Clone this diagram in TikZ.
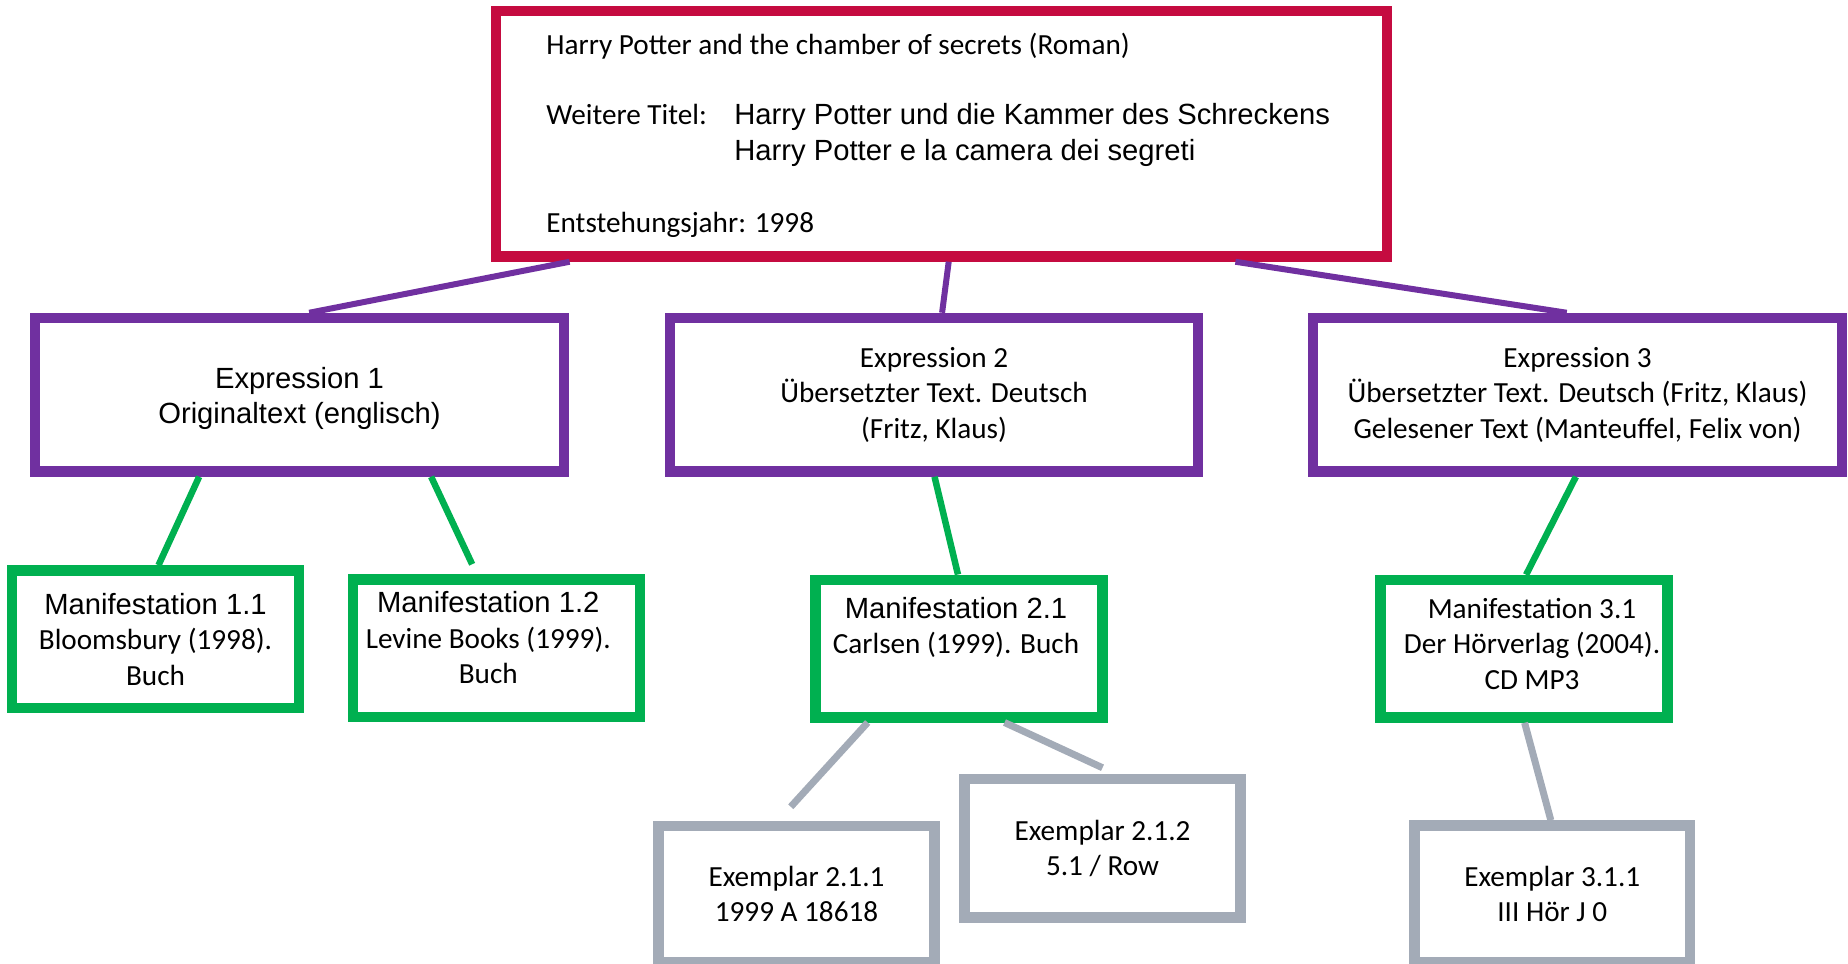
\documentclass[tikz,border=0pt]{standalone}
\usepackage{fontspec}
\setmainfont{Carlito}
\newfontfamily\arialfont{Liberation Sans}
\usetikzlibrary{calc}

\begin{document}
\begin{tikzpicture}[x=0.5pt,y=-0.5pt,
  txt/.style={inner sep=0pt,align=center,font=\fontsize{14.6pt}{17.7pt}\selectfont},
  box/.style={txt,rectangle,draw,line width=5.25pt},
  workbox/.style={box,draw=workred},
  exprbox/.style={box,draw=exprpurple,minimum width=264.5pt,minimum height=76.75pt},
  manibox/.style={box,draw=manigreen,minimum width=143.5pt,minimum height=68.75pt},
  itembox/.style={box,draw=itemgray,minimum width=138pt,minimum height=68.5pt},
  exprline/.style={draw=exprpurple,line width=3pt},
  maniline/.style={draw=manigreen,line width=3.25pt},
  itemline/.style={draw=itemgray,line width=3.5pt}]
\definecolor{workred}{HTML}{C50B40}
\definecolor{exprpurple}{HTML}{7030A0}
\definecolor{manigreen}{HTML}{00B050}
\definecolor{itemgray}{HTML}{A3ABB7}
\useasboundingbox (0,0) rectangle (1848,964);
\clip (0,0) rectangle (1848,964);

% Werk
\node[workbox,minimum width=445.5pt,minimum height=122.75pt] (work) at (941.5,133.75) {};
\node[txt,anchor=base west] (titel) at (546,54) {Harry Potter and the chamber of secrets (Roman)};
\node[txt,anchor=base west] (weitere) at (546,124) {Weitere Titel:};
\node[txt,anchor=base west] (titelde) at (734,124) {\arialfont Harry Potter und die Kammer des Schreckens};
\node[txt,anchor=base west] (titelit) at (734,160) {\arialfont Harry Potter e la camera dei segreti};
\node[txt,anchor=base west] (jahr) at (546,232) {Entstehungsjahr: 1998};

% Expressionen
\node[exprbox,font=\fontsize{14.6pt}{17.7pt}\selectfont\arialfont,text height=31.8pt] (expr1) at (299.5,394.75)
  {Expression 1\\Originaltext (englisch)};
\node[exprbox,minimum width=264pt] (expr2) at (934,394.75)
  {Expression 2\\\"Ubersetzter Text. Deutsch\\(Fritz, Klaus)};
\node[exprbox] (expr3) at (1577.5,394.75)
  {Expression 3\\\"Ubersetzter Text. Deutsch (Fritz, Klaus)\\Gelesener Text (Manteuffel, Felix von)};

% Manifestationen
\node[manibox] (mani11) at (155.5,639.25)
  {{\arialfont Manifestation 1.1}\\Bloomsbury (1998).\\Buch};
\node[manibox] (mani12) at (496.25,648.25) {};
\node[txt] (mani12text) at ($(mani12)+(-8,-10.5)$)
  {{\arialfont Manifestation 1.2}\\Levine Books (1999).\\Buch};
\node[manibox] (mani21) at (959,648.5) {};
\node[txt] (mani21text) at ($(mani21)+(-3,-21)$)
  {{\arialfont Manifestation 2.1}\\Carlsen (1999). Buch};
\node[manibox] (mani31) at (1524,648.75) {};
\node[txt] (mani31text) at ($(mani31)+(8,-5)$)
  {Manifestation 3.1\\Der H\"orverlag (2004).\\CD MP3};

% Exemplare
\node[itembox,minimum height=68.25pt] (item211) at (796.5,894.25) {Exemplar 2.1.1\\1999 A 18618};
\node[itembox,minimum height=69.25pt] (item212) at (1102.5,848.25) {Exemplar 2.1.2\\5.1 / Row};
\node[itembox,minimum width=137.75pt,minimum height=68.25pt] (item311) at (1552.25,893.75) {Exemplar 3.1.1\\III H\"or J 0};

% freie Enden
\coordinate (mani12top) at ($(mani12.north west)!0.419!(mani12.north east)+(0,-10)$);
\coordinate (item211top) at ($(item211.north west)!0.48!(item211.north east)+(0,-14)$);
\coordinate (item212top) at ($(item212.north west)!0.5!(item212.north east)+(0,-6)$);

% Verbindungen
\draw[exprline] ($(work.south west)!0.0875!(work.south east)$) -- ($(expr1.north west)!0.518!(expr1.north east)$);
\draw[exprline] ($(work.south west)!0.508!(work.south east)$) -- ($(expr2.north west)!0.515!(expr2.north east)$);
\draw[exprline] ($(work.south west)!0.826!(work.south east)$) -- ($(expr3.north west)!0.48!(expr3.north east)$);
\draw[maniline] ($(expr1.south west)!0.314!(expr1.south east)$) -- ($(mani11.north west)!0.51!(mani11.north east)$);
\draw[maniline] ($(expr1.south west)!0.744!(expr1.south east)$) -- (mani12top);
\draw[maniline] ($(expr2.south west)!0.501!(expr2.south east)$) -- ($(mani21.north west)!0.4965!(mani21.north east)$);
\draw[maniline] ($(expr3.south west)!0.497!(expr3.south east)$) -- ($(mani31.north west)!0.507!(mani31.north east)$);
\draw[itemline] ($(mani21.south west)!0.193!(mani21.south east)$) -- (item211top);
\draw[itemline] ($(mani21.south west)!0.653!(mani21.south east)$) -- (item212top);
\draw[itemline] ($(mani31.south west)!0.502!(mani31.south east)$) -- ($(item311.north west)!0.495!(item311.north east)$);
\end{tikzpicture}
\end{document}
